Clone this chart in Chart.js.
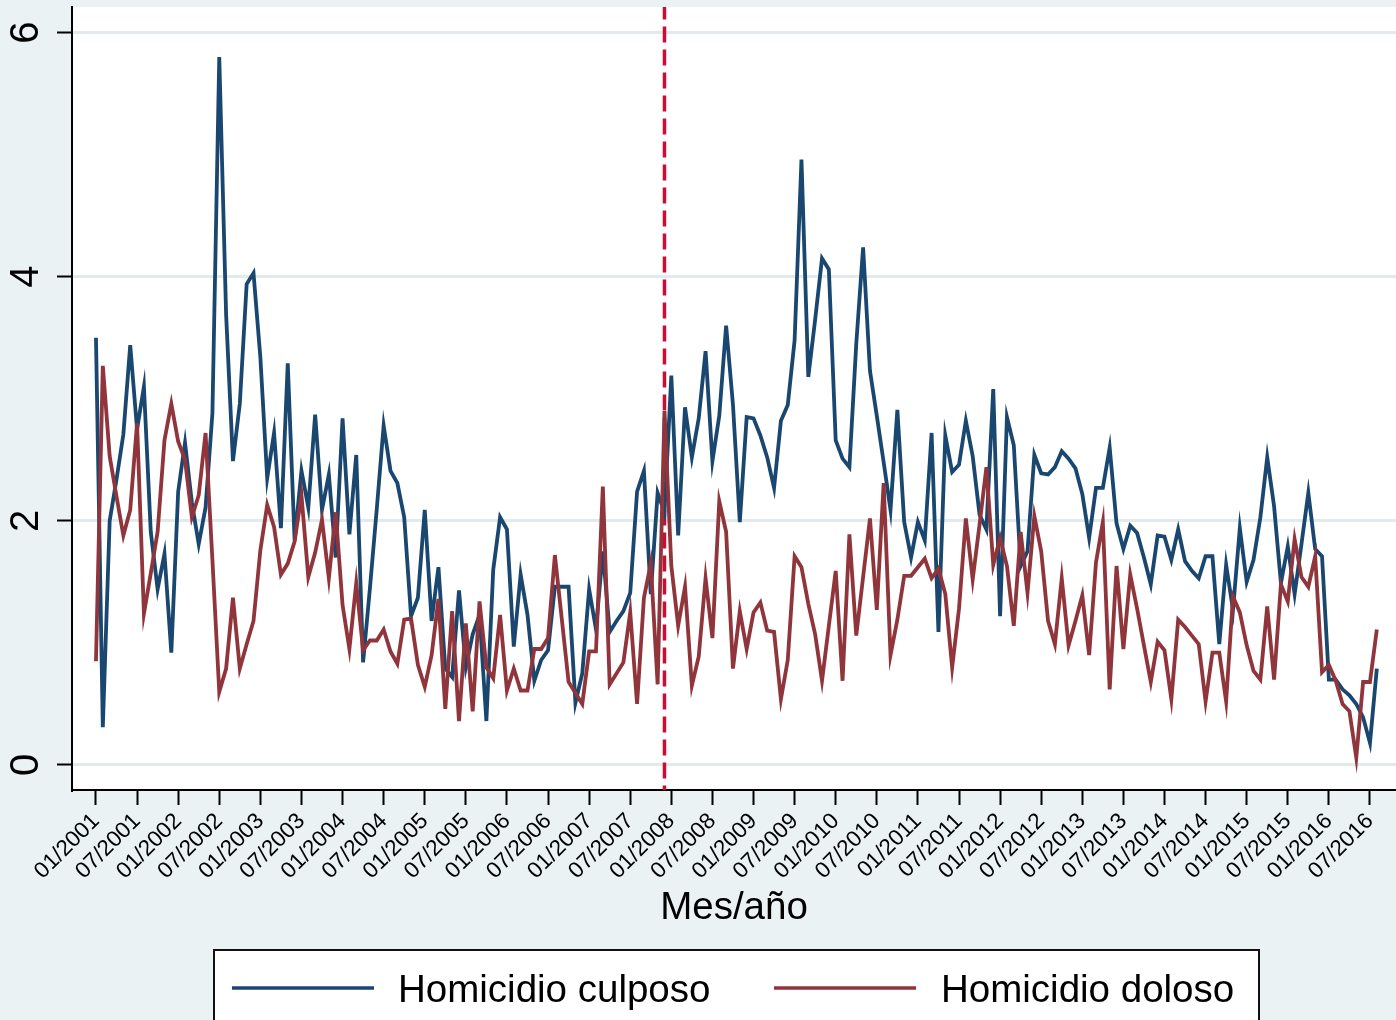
<!DOCTYPE html>
<html>
<head>
<meta charset="utf-8">
<title>Homicidio culposo y doloso</title>
<script src="https://cdn.jsdelivr.net/npm/chart.js@4.4.0/dist/chart.umd.min.js"></script>
<style>
  html, body { margin: 0; padding: 0; background: #eaf2f3; }
  #wrap { width: 1396px; height: 1020px; }
</style>
</head>
<body>
<div id="wrap"><canvas id="homicidios" width="1396" height="1020"></canvas></div>
<script>
// monthly rates, 01/2001 .. 08/2016 (one value per month)
const culposo = [
  3.50, 0.31, 2.00, 2.34, 2.71, 3.44, 2.75, 3.10, 1.91, 1.44, 1.73, 0.92,
  2.24, 2.64, 2.15, 1.81, 2.11, 2.88, 5.80, 3.69, 2.49, 2.96, 3.94, 4.03,
  3.34, 2.35, 2.72, 1.94, 3.29, 1.84, 2.41, 2.11, 2.87, 2.09, 2.38, 1.70,
  2.84, 1.89, 2.54, 0.84, 1.45, 2.10, 2.78, 2.41, 2.31, 2.03, 1.22, 1.37,
  2.09, 1.18, 1.62, 0.79, 0.72, 1.43, 0.80, 1.07, 1.23, 0.36, 1.60, 2.03,
  1.93, 0.97, 1.56, 1.23, 0.69, 0.86, 0.94, 1.46, 1.46, 1.46, 0.51, 0.75,
  1.44, 1.11, 1.75, 1.09, 1.18, 1.26, 1.41, 2.24, 2.41, 1.40, 2.23, 2.07,
  3.19, 1.88, 2.93, 2.52, 2.84, 3.39, 2.49, 2.86, 3.60, 2.95, 1.99, 2.85,
  2.84, 2.70, 2.52, 2.27, 2.82, 2.95, 3.48, 4.96, 3.18, 3.65, 4.15, 4.06,
  2.66, 2.51, 2.44, 3.45, 4.24, 3.23, 2.86, 2.48, 2.09, 2.91, 1.99, 1.70,
  1.99, 1.84, 2.72, 1.09, 2.70, 2.40, 2.46, 2.82, 2.53, 2.05, 1.93, 3.08,
  1.22, 2.85, 2.62, 1.63, 1.75, 2.54, 2.39, 2.38, 2.44, 2.57, 2.51, 2.43,
  2.22, 1.86, 2.27, 2.27, 2.60, 1.98, 1.77, 1.96, 1.90, 1.70, 1.48, 1.88,
  1.87, 1.68, 1.93, 1.67, 1.59, 1.53, 1.71, 1.71, 0.99, 1.64, 1.27, 1.94,
  1.50, 1.68, 2.03, 2.52, 2.12, 1.49, 1.79, 1.40, 1.81, 2.23, 1.77, 1.71,
  0.70, 0.70, 0.62, 0.57, 0.50, 0.39, 0.18, 0.79
];
const doloso = [
  0.85, 3.27, 2.53, 2.20, 1.88, 2.09, 2.80, 1.24, 1.57, 1.91, 2.66, 2.96,
  2.65, 2.50, 2.03, 2.21, 2.72, 1.68, 0.60, 0.79, 1.37, 0.79, 0.99, 1.18,
  1.76, 2.13, 1.95, 1.56, 1.65, 1.83, 2.21, 1.54, 1.74, 2.01, 1.53, 2.07,
  1.31, 0.95, 1.49, 0.94, 1.02, 1.02, 1.11, 0.93, 0.83, 1.19, 1.20, 0.82,
  0.64, 0.90, 1.36, 0.46, 1.26, 0.36, 1.16, 0.44, 1.34, 0.80, 0.71, 1.23,
  0.61, 0.79, 0.61, 0.61, 0.95, 0.95, 1.04, 1.72, 1.20, 0.68, 0.59, 0.50,
  0.93, 0.93, 2.28, 0.66, 0.75, 0.84, 1.25, 0.50, 1.37, 1.65, 0.66, 2.90,
  1.63, 1.14, 1.46, 0.65, 0.89, 1.53, 1.04, 2.16, 1.91, 0.79, 1.26, 0.95,
  1.25, 1.33, 1.10, 1.09, 0.54, 0.86, 1.71, 1.62, 1.32, 1.07, 0.69, 1.14,
  1.59, 0.69, 1.89, 1.06, 1.54, 2.02, 1.27, 2.31, 0.90, 1.19, 1.55, 1.55,
  1.62, 1.69, 1.53, 1.61, 1.40, 0.80, 1.28, 2.02, 1.52, 1.97, 2.44, 1.64,
  1.86, 1.63, 1.14, 1.91, 1.41, 2.04, 1.75, 1.18, 0.99, 1.53, 0.98, 1.18,
  1.39, 0.90, 1.66, 1.99, 0.62, 1.63, 0.95, 1.56, 1.28, 0.98, 0.68, 1.01,
  0.94, 0.54, 1.19, 1.13, 1.06, 0.99, 0.52, 0.92, 0.92, 0.52, 1.38, 1.25,
  0.98, 0.77, 0.70, 1.30, 0.70, 1.48, 1.34, 1.85, 1.54, 1.46, 1.71, 0.76,
  0.82, 0.69, 0.50, 0.44, 0.06, 0.68, 0.68, 1.11
];
const xTickLabels = [
  '01/2001', '07/2001', '01/2002', '07/2002', '01/2003', '07/2003', '01/2004', '07/2004',
  '01/2005', '07/2005', '01/2006', '07/2006', '01/2007', '07/2007', '01/2008', '07/2008',
  '01/2009', '07/2009', '01/2010', '07/2010', '01/2011', '07/2011', '01/2012', '07/2012',
  '01/2013', '07/2013', '01/2014', '07/2014', '01/2015', '07/2015', '01/2016', '07/2016'
];
const yTicks = [0, 2, 4, 6];
const seriesNames = ['Homicidio culposo', 'Homicidio doloso'];
const breakMonth = 83; // 12/2007, dashed reference line

const FONT = "'Liberation Sans', Arial, Helvetica, sans-serif";
const BLUE = '#1a476f';
const MAROON = '#90353b';

const toPoints = (arr) => arr.map((v, i) => ({x: i, y: v}));

// white plot region on the light graph region
const backgrounds = {
  id: 'backgrounds',
  beforeDraw(chart) {
    const {ctx, chartArea: a} = chart;
    ctx.save();
    ctx.fillStyle = '#eaf2f3';
    ctx.fillRect(0, 0, chart.width, chart.height);
    ctx.fillStyle = '#ffffff';
    ctx.fillRect(a.left, a.top, a.right - a.left, a.bottom - a.top);
    ctx.restore();
  }
};

// Stata-like boxed legend under the axis title
const boxLegend = {
  id: 'boxLegend',
  afterDraw(chart) {
    const ctx = chart.ctx;
    ctx.save();
    ctx.fillStyle = '#ffffff';
    ctx.fillRect(214, 950, 1045, 90);
    ctx.strokeStyle = '#111';
    ctx.lineWidth = 2;
    ctx.strokeRect(214, 950, 1045, 90);

    const items = [
      {ds: chart.data.datasets[0], x0: 232, x1: 374, tx: 398},
      {ds: chart.data.datasets[1], x0: 774, x1: 916, tx: 941}
    ];
    ctx.font = '38.5px ' + FONT;
    ctx.textBaseline = 'middle';
    items.forEach((it) => {
      ctx.strokeStyle = it.ds.borderColor;
      ctx.lineWidth = 3.5;
      ctx.beginPath();
      ctx.moveTo(it.x0, 988);
      ctx.lineTo(it.x1, 988);
      ctx.stroke();
      ctx.fillStyle = '#000';
      ctx.fillText(it.ds.label, it.tx, 991);
    });
    ctx.restore();
  }
};

const ctx = document.getElementById('homicidios').getContext('2d');

new Chart(ctx, {
  type: 'line',
  data: {
    datasets: [
      {
        label: seriesNames[0],
        data: toPoints(culposo),
        borderColor: BLUE,
        borderWidth: 3.8,
        pointRadius: 0,
        tension: 0,
        order: 2
      },
      {
        label: seriesNames[1],
        data: toPoints(doloso),
        borderColor: MAROON,
        borderWidth: 3.8,
        pointRadius: 0,
        tension: 0,
        order: 1
      },
      {
        label: 'break',
        data: [{x: breakMonth, y: -0.3}, {x: breakMonth, y: 6.3}],
        borderColor: '#cc0c32',
        borderWidth: 3.5,
        borderDash: [16, 7],
        pointRadius: 0,
        order: 3
      }
    ]
  },
  options: {
    responsive: false,
    animation: false,
    layout: {padding: {top: 7, right: 0, bottom: 85, left: 0}},
    plugins: {
      legend: {display: false},
      tooltip: {enabled: false}
    },
    scales: {
      x: {
        type: 'linear',
        min: -3.5,
        max: 189.8,
        afterBuildTicks: (scale) => {
          scale.ticks = xTickLabels.map((_, i) => ({value: i * 6}));
        },
        afterFit: (scale) => {
          scale.height = 145;
          scale.paddingLeft = 0;
          scale.paddingRight = 0;
        },
        ticks: {
          autoSkip: false,
          minRotation: 45,
          maxRotation: 45,
          padding: 3,
          color: '#000',
          font: {family: FONT, size: 22.5},
          callback: (value, index) => xTickLabels[index]
        },
        grid: {
          drawOnChartArea: false,
          drawTicks: true,
          tickLength: 15,
          tickColor: '#000',
          tickWidth: 2
        },
        border: {display: true, color: '#000', width: 2},
        title: {
          display: true,
          text: 'Mes/año',
          color: '#000',
          font: {family: FONT, size: 38.5},
          padding: {top: 4, bottom: 4}
        }
      },
      y: {
        min: -0.205,
        max: 6.21,
        afterBuildTicks: (scale) => {
          scale.ticks = yTicks.map((v) => ({value: v}));
        },
        afterFit: (scale) => {
          scale.width = 72;
          scale.paddingTop = 0;
          scale.paddingBottom = 0;
        },
        ticks: {
          minRotation: 90,
          maxRotation: 90,
          crossAlign: 'center',
          padding: 19,
          color: '#000',
          font: {family: FONT, size: 40}
        },
        grid: {
          color: '#e1eaed',
          lineWidth: 3,
          tickColor: '#000',
          tickWidth: 2,
          tickLength: 15
        },
        border: {display: true, color: '#000', width: 2}
      }
    }
  },
  plugins: [backgrounds, boxLegend]
});
</script>
</body>
</html>
